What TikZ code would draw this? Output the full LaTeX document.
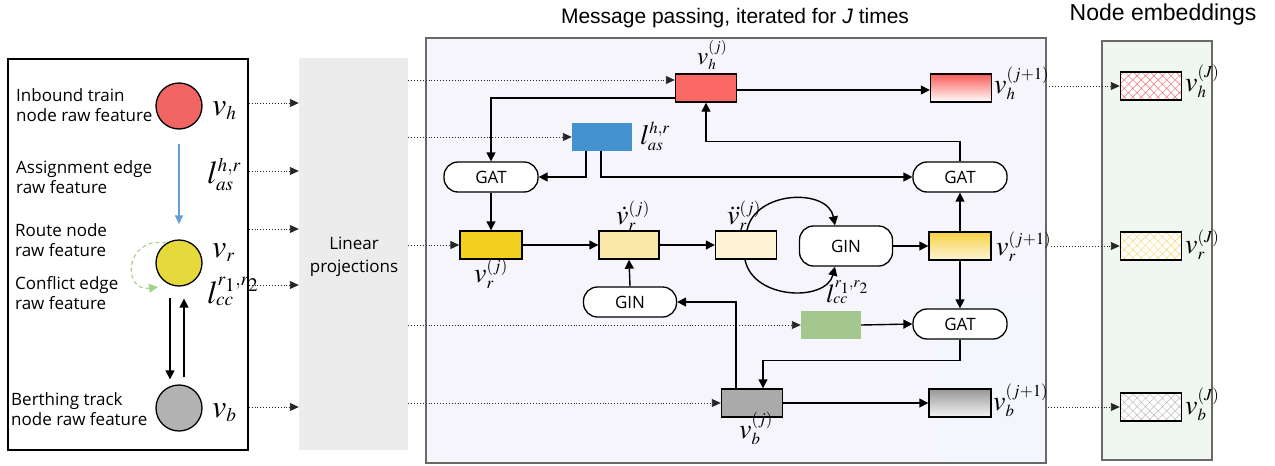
\documentclass[tikz,border=0pt]{standalone}
\usepackage{mathptmx}
\usepackage{fontspec}
\setmainfont{Open Sans}
\newfontfamily\arialfont{Liberation Sans}
\usetikzlibrary{arrows.meta,patterns.meta,calc}

\definecolor{hred}{RGB}{250,105,100}
\definecolor{hredtop}{RGB}{248,92,88}
\definecolor{rgold}{RGB}{243,208,30}
\definecolor{rgoldtop}{RGB}{246,210,70}
\definecolor{rpale}{RGB}{250,232,168}
\definecolor{rpaler}{RGB}{255,243,214}
\definecolor{bgray}{RGB}{170,170,170}
\definecolor{bgraytop}{RGB}{150,150,150}
\definecolor{asblue}{RGB}{68,146,207}
\definecolor{ccgreen}{RGB}{163,199,143}
\definecolor{circred}{RGB}{240,100,100}
\definecolor{circyel}{RGB}{229,217,60}
\definecolor{circgray}{RGB}{178,178,178}
\definecolor{arrblue}{RGB}{100,160,215}
\definecolor{loopgreen}{RGB}{169,209,142}
\definecolor{linfill}{RGB}{236,236,236}
\definecolor{mpfill}{RGB}{245,245,251}
\definecolor{mpfilltwo}{RGB}{243,247,253}
\definecolor{embfill}{RGB}{240,247,240}
\definecolor{frame}{RGB}{105,105,105}
\definecolor{hatchred}{RGB}{240,110,110}
\definecolor{hatchyel}{RGB}{250,215,110}
\definecolor{hatchgray}{RGB}{185,185,185}

\newcommand{\sx}[1]{{\scriptscriptstyle #1}}

\begin{document}
\begin{tikzpicture}[x=1pt,y=-1pt,
  conn/.style={line width=1.4pt,-{Triangle[length=9pt,width=9pt]}},
  dotarr/.style={draw=black!85,line width=0.9pt,dash pattern=on 0.9pt off 2pt,
    -{Triangle[length=9pt,width=8pt]}},
  feat/.style={draw,line width=1.4pt,minimum width=61pt,minimum height=28pt,inner sep=0pt},
  flatfeat/.style={minimum width=60pt,minimum height=28pt,inner sep=0pt},
  pill/.style={draw,fill=white,line width=1.3pt,rectangle,rounded corners=14pt,
    minimum width=94pt,minimum height=30pt,inner sep=0pt,font=\fontsize{17}{17}\selectfont},
  sidetxt/.style={align=left,anchor=west,inner sep=0pt,font=\fontsize{17}{19.5}\selectfont},
  biglab/.style={inner sep=0pt,anchor=base west,font=\fontsize{32}{32}\selectfont},
  lab/.style={inner sep=0pt,anchor=base west,font=\fontsize{28}{28}\selectfont},
  rawcirc/.style={circle,draw,line width=1.3pt,minimum size=46pt,inner sep=0pt},
  embbox/.style={draw,line width=1.4pt,fill=white,minimum width=61pt,minimum height=28pt,
    inner sep=0pt,postaction={pattern={Hatch[angle=45,distance=6pt,line width=0.5pt]},pattern color=#1},
    postaction={draw,line width=1.4pt}},
]
\useasboundingbox (0,0) rectangle (1275,466);

% ---------- panels ----------
\node[draw,line width=1.5pt,minimum width=240pt,minimum height=391pt,inner sep=0pt] (raw) at (128,254.5) {};
\node[fill=linfill,minimum width=109pt,minimum height=392pt,inner sep=0pt] (lin) at (353.5,254) {};
\node[draw=frame,fill=mpfill,line width=1.5pt,minimum width=620pt,minimum height=425pt,inner sep=0pt] (mp) at (736,250.5) {};
\fill[mpfilltwo] (937,293) rectangle (1044.8,462.2);
\node[draw=frame,fill=embfill,line width=1.2pt,minimum width=110pt,minimum height=419pt,inner sep=0pt] (emb) at (1157,250.5) {};

\node[font=\arialfont\fontsize{21}{21}\selectfont] (title) at (735,18) {Message passing, iterated for \textit{J} times};
\node[font=\arialfont\fontsize{23}{23}\selectfont] (embtitle) at (1163,15) {Node embeddings};

% ---------- raw features ----------
\node[rawcirc,fill=circred] (ch) at (179,106) {};
\node[rawcirc,fill=circyel] (cr) at (179,263) {};
\node[rawcirc,fill=circgray] (cb) at (179,408) {};

\node[sidetxt] (t1) at (16,105) {Inbound train\\node raw feature};
\node[sidetxt] (t2) at (16,177) {Assignment edge\\raw feature};
\node[sidetxt] (t3) at (15,240) {Route node\\raw feature};
\node[sidetxt] (t4) at (15,293) {Conflict edge\\raw feature};
\node[sidetxt] (t5) at (11,409) {Berthing track\\node raw feature};

\node[biglab] (rvh) at (212,115) {$v_{\sx h}$};
\node[biglab] (rlas) at (207,183) {$l_{\sx{as}}^{\sx{h,r}}$};
\node[biglab] (rvr) at (212,257) {$v_{\sx r}$};
\node[biglab] (rlcc) at (207,303) {$l_{\sx{cc}}^{\sx{r_1,r_2}}$};
\node[biglab] (rvb) at (212,417) {$v_{\sx b}$};

\draw[line width=1.4pt,arrblue,-{Triangle[length=9pt,width=8pt]}] ([yshift=-14pt]ch.south) -- ([yshift=15pt]cr.north);
\coordinate (loopend) at (158,287);
\draw[line width=1.2pt,loopgreen,dash pattern=on 4pt off 3pt,-{Triangle[length=9pt,width=9pt]}]
  (cr.122) .. controls (124,236) and (122,292) .. (loopend);
\draw[conn] ([xshift=-9pt,yshift=-11pt]cr.south) -- ([xshift=-9pt,yshift=5pt]cb.north);
\draw[conn] ([xshift=5pt,yshift=7pt]cb.north) -- ([xshift=5pt,yshift=-12pt]cr.south);

\foreach \yy in {103,171,229,285,407}
  \draw[dotarr] (raw.east |- 0,\yy) -- (lin.west |- 0,\yy);

\node[align=center,inner sep=0pt,font=\fontsize{17}{23}\selectfont] (lintxt) at (354,257) {Linear\\projections};

% ---------- message passing ----------
\node[feat,fill=hred] (vh) at (706,88) {};
\node[feat,top color=hredtop,bottom color=white] (vh1) at (961,88) {};
\node[flatfeat,fill=asblue] (las) at (602,137) {};
\node[pill] (gat1) at (491,177) {GAT};
\node[pill] (gat2) at (960,177) {GAT};
\node[feat,minimum width=62pt,fill=rgold] (vr) at (491,245) {};
\node[feat,minimum width=60pt,fill=rpale] (vrd) at (629,245) {};
\node[feat,fill=rpaler] (vrdd) at (746,245) {};
\node[pill,minimum width=93pt,minimum height=40pt] (gin1) at (846,246) {GIN};
\node[feat,minimum width=62pt,top color=rgoldtop,bottom color=rpaler] (vr1) at (960,246) {};
\node[pill,minimum width=93pt] (gin2) at (630,302) {GIN};
\node[flatfeat,fill=ccgreen] (lcc) at (831,325) {};
\node[pill] (gat3) at (960,324) {GAT};
\node[feat,fill=bgray] (vb) at (752,403) {};
\node[feat,minimum width=62pt,top color=bgraytop,bottom color=white!96!black] (vb1) at (960,403) {};

\node[lab,font=\fontsize{25}{25}\selectfont] (lvh) at (697,64) {$v_{\sx h}^{\sx{(j)}}$};
\node[lab] (lvh1) at (994,93) {$v_{\sx h}^{\sx{(j+1)}}$};
\node[lab] (llas) at (640,144) {$l_{\sx{as}}^{\sx{h,r}}$};
\node[lab] (lvr) at (474,282) {$v_{\sx r}^{\sx{(j)}}$};
\node[lab] (lvrd) at (616,224) {$\dot v_{\sx r}^{\sx{(j)}}$};
\node[lab] (lvrdd) at (727,224) {$\ddot v_{\sx r}^{\sx{(j)}}$};
\node[lab] (lvr1) at (996,255) {$v_{\sx r}^{\sx{(j+1)}}$};
\node[lab,font=\fontsize{26}{26}\selectfont] (llcc) at (826,302) {$l_{\sx{cc}}^{\sx{r_1,r_2}}$};
\node[lab] (lvb) at (739,438) {$v_{\sx b}^{\sx{(j)}}$};
\node[lab] (lvb1) at (993,410) {$v_{\sx b}^{\sx{(j+1)}}$};

% inputs from the projections
\draw[dotarr] (lin.east |- 0,80) -- ([yshift=8pt]vh.west);
\draw[dotarr] (lin.east |- las.west) -- (las.west);
\draw[dotarr] (lin.east |- vr.west) -- (vr.west);
\draw[dotarr] (lin.east |- lcc.west) -- (lcc.west);
\draw[dotarr] (lin.east |- vb.west) -- (vb.west);

% train node updates
\draw[conn] ([yshift=-10pt]vh.west) -| (gat1.north);
\draw[conn] ([yshift=-2pt]vh.east) -- ([yshift=-2pt]vh1.west);
\draw[conn] ([xshift=-16pt]las.south) |- (gat1.east);
\draw[conn] ([xshift=-1pt]las.south) |- (gat2.west);
\draw[conn] (gat2.north) -- ++(0,-20) -| (vh.south);

% route node updates
\draw[conn] (gat1.south) -- (vr.north);
\draw[conn] (vr.east) -- (vrd.west);
\draw[conn] (vrd.east) -- (vrdd.west);
\draw[conn] ([xshift=1pt]vrdd.north) .. controls (755,190) and (828,188) .. ([xshift=-11pt]gin1.north);
\draw[conn] ([xshift=-1pt]vrdd.south) .. controls (753,300) and (826,302) .. ([xshift=-11pt]gin1.south);
\draw[conn] (gin1.east) -- (vr1.west);
\draw[conn] (vr1.north) -- (gat2.south);
\draw[conn] (vr1.south) -- (gat3.north);
\draw[conn] (lcc.east) -- (gat3.west);
\draw[conn] (gin2.north) -- (vrd.south);

% berthing track updates
\draw[conn] (gat3.south) -- ++(0,21) -| ([xshift=11pt]vb.north);
\draw[conn] ([xshift=-16pt]vb.north) |- (gin2.east);
\draw[conn] (vb.east) -- (vb1.west);

% ---------- embeddings ----------
\node[embbox=hatchred] (eh) at (1151,86) {};
\node[embbox=hatchyel] (er) at (1151,246) {};
\node[embbox=hatchgray] (eb) at (1151,407) {};
\node[lab] (leh) at (1185,91) {$v_{\sx h}^{\sx{(J)}}$};
\node[lab] (ler) at (1185,253) {$v_{\sx r}^{\sx{(J)}}$};
\node[lab] (leb) at (1185,414) {$v_{\sx b}^{\sx{(J)}}$};

\draw[dotarr] (lvh1.east |- eh.west) -- (eh.west);
\draw[dotarr] (lvr1.east |- er.west) -- (er.west);
\draw[dotarr] (lvb1.east |- eb.west) -- (eb.west);
\end{tikzpicture}
\end{document}
